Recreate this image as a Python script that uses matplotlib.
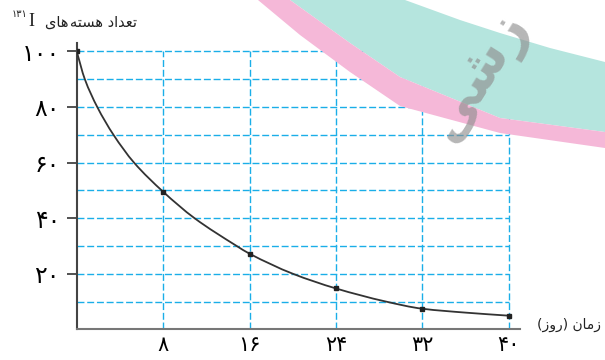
import matplotlib
matplotlib.use("Agg")
import matplotlib.pyplot as plt
from matplotlib.patches import Polygon, PathPatch
from matplotlib.path import Path

# values (I-131 nuclei vs days)
days_curve = [0, 0.75, 1.9, 3.4, 5.3, 8, 10.9, 14.8, 16, 20, 24, 28.6, 32, 36, 40]
nuclei_curve = [100, 90, 80, 70, 60, 49.5, 40, 30, 27.2, 20, 14.7, 10, 7.4, 6.0, 4.9]
days_marked = [0, 8, 16, 24, 32, 40]
nuclei_marked = [100, 49.5, 27.2, 14.7, 7.4, 4.9]

x_ticks = [8, 16, 24, 32, 40]
x_labels = ["۸", "۱۶", "۲۴", "۳۲", "۴۰"]
y_ticks = [20, 40, 60, 80, 100]
y_labels = ["۲۰", "۴۰", "۶۰", "۸۰", "۱۰۰"]

# persian text already in visual (left-to-right) presentation forms
title_fa = "\ufeef\ufe8e\ufeeb\u200a\ufeea\ufe98\ufeb4\ufeeb \ufea9\ufe8d\ufeaa\ufecc\ufe97"
xlabel_fa = "(\ufeaf\ufeed\ufead) \ufee5\ufe8e\ufee3\ufeaf"

W, H = 605, 360
fig = plt.figure(figsize=(W / 100, H / 100), dpi=100)

def px(x, y):
    return x / W, 1 - y / H

# watermark bands behind the chart
teal = [(405, 0), (460, 20), (500, 33), (550, 48), (605, 62), (605, 132),
        (500, 118), (400, 77), (350, 43), (290, 0)]
pink = [(290, 0), (350, 43), (400, 77), (500, 118), (605, 132), (605, 148),
        (500, 133), (400, 106), (350, 72), (300, 35), (258, 0)]
fig.patches.append(Polygon([px(*p) for p in teal], closed=True, transform=fig.transFigure,
                           facecolor="#b5e5de", edgecolor="none", zorder=0))
fig.patches.append(Polygon([px(*p) for p in pink], closed=True, transform=fig.transFigure,
                           facecolor="#f5b8d8", edgecolor="none", zorder=0))

ax = fig.add_axes([76.7 / W, 30.7 / H, 442.9 / W, 286.3 / H])
ax.patch.set_alpha(0)
ax.set_xlim(0, 41)
ax.set_ylim(0, 103)

grid_kw = dict(color="#1aaee8", lw=1.0, linestyles=(0, (5, 2)), zorder=1)
ax.hlines(range(10, 101, 10), 0, 40, **grid_kw)
ax.vlines(x_ticks, 0, 100, **grid_kw)

# smooth curve through the read points (monotone hermite -> bezier segments)
n = len(days_curve)
slopes = [(nuclei_curve[i + 1] - nuclei_curve[i]) / (days_curve[i + 1] - days_curve[i])
          for i in range(n - 1)]
tang = [slopes[0]]
for i in range(1, n - 1):
    a, b = slopes[i - 1], slopes[i]
    tang.append(0 if a * b <= 0 else 2 / (1 / a + 1 / b))
tang.append(slopes[-1])
verts = [(days_curve[0], nuclei_curve[0])]
codes = [Path.MOVETO]
for i in range(n - 1):
    h = days_curve[i + 1] - days_curve[i]
    verts += [(days_curve[i] + h / 3, nuclei_curve[i] + tang[i] * h / 3),
              (days_curve[i + 1] - h / 3, nuclei_curve[i + 1] - tang[i + 1] * h / 3),
              (days_curve[i + 1], nuclei_curve[i + 1])]
    codes += [Path.CURVE4] * 3
ax.add_patch(PathPatch(Path(verts, codes), facecolor="none", edgecolor="#333333",
                       lw=1.3, zorder=3))
ax.plot(days_marked, nuclei_marked, ls="none", marker="s", ms=3, color="#222222", zorder=4)

for s in ["top", "right"]:
    ax.spines[s].set_visible(False)
ax.spines["left"].set_color("#444444")
ax.spines["left"].set_linewidth(1.5)
ax.spines["bottom"].set_color("#777777")
ax.spines["bottom"].set_linewidth(1.5)

ax.set_yticks(y_ticks)
ax.set_yticklabels(y_labels, fontsize=17, color="#000000")
ax.tick_params(axis="y", length=7, width=1.2, color="#333333", pad=5)
ax.set_xticks(x_ticks)
ax.set_xticklabels(x_labels, fontsize=15, color="#000000")
ax.tick_params(axis="x", length=0, pad=4)

fig.text(*px(137, 22), title_fa, fontsize=10.5, ha="right", va="center", color="#222222")
fig.text(*px(34, 21), "I", fontsize=13, family="Liberation Serif",
         ha="right", va="center", color="#222222")
fig.text(*px(27, 14), "۱۳۱", fontsize=7, ha="right", va="center", color="#222222")
fig.text(*px(601, 325), xlabel_fa, fontsize=10, ha="right", va="center", color="#222222")

# gray watermark letters
fig.text(*px(478, 76), "\ufef0\ufeb7\ufeaf", fontsize=40, fontweight="bold", rotation=58,
         ha="center", va="center", color="#8f8f8f", alpha=0.65, zorder=5)

fig.savefig("out.png", dpi=100)
